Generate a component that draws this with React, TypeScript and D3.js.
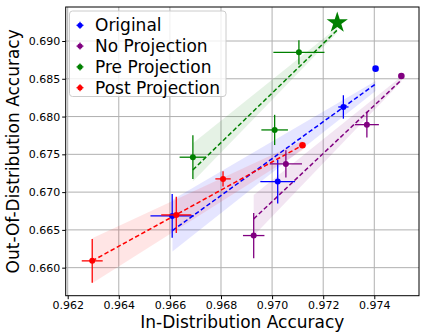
import { useEffect, useRef } from 'react';
import * as d3 from 'd3';

// In-distribution / out-of-distribution accuracy per method
const seriesNames = ['Original', 'No Projection', 'Pre Projection', 'Post Projection'];
const seriesColors = ['#0000ff', '#800080', '#008000', '#ff0000'];

const originalId = [0.96609, 0.97022, 0.97279];
const originalOod = [0.66685, 0.67139, 0.68127];
const originalIdErr = [0.00085, 0.00068, 0.0002];
const originalOodErr = [0.0029, 0.0029, 0.00155];

const noProjId = [0.96928, 0.97054, 0.97371];
const noProjOod = [0.66425, 0.67373, 0.67893];
const noProjIdErr = [0.00042, 0.00063, 0.00047];
const noProjOodErr = [0.003, 0.0018, 0.0017];

const preProjId = [0.9669, 0.9701, 0.97105];
const preProjOod = [0.67462, 0.67823, 0.6885];
const preProjIdErr = [0.00052, 0.00052, 0.001];
const preProjOodErr = [0.0029, 0.002, 0.0016];

const postProjId = [0.96296, 0.96625, 0.96808];
const postProjOod = [0.6609, 0.66698, 0.67175];
const postProjIdErr = [0.00041, 0.00059, 0.0003];
const postProjOodErr = [0.0029, 0.0024, 0.001];

// final (merged) model: [id, ood]
const endPoints = [
  [0.97405, 0.68634],
  [0.97506, 0.68537],
  [0.97255, 0.69242],
  [0.97119, 0.6762],
];

// dashed trend lines and their shaded bands, at start and end x
const fitX = [
  [0.9661, 0.97405],
  [0.96928, 0.97506],
  [0.9669, 0.97255],
  [0.96296, 0.97119],
];
const fitY = [
  [0.66491, 0.68431],
  [0.66646, 0.68484],
  [0.67294, 0.69146],
  [0.6609, 0.6762],
];
const bandLow = [
  [0.66213, 0.68339],
  [0.66421, 0.6846],
  [0.67139, 0.6911],
  [0.65795, 0.67555],
];
const bandHigh = [
  [0.669, 0.68471],
  [0.66963, 0.6853],
  [0.67647, 0.6918],
  [0.6639, 0.6768],
];

const xTicks = [0.962, 0.964, 0.966, 0.968, 0.97, 0.972, 0.974];
const yTicks = [0.66, 0.665, 0.67, 0.675, 0.68, 0.685, 0.69];

export default function App() {
  const svgRef = useRef<SVGSVGElement>(null);

  useEffect(() => {
    if (!svgRef.current) return;
    const width = 422;
    const height = 332;
    const margin = { top: 7, right: 3, bottom: 36.3, left: 65.7 };
    const font = 'DejaVu Sans, sans-serif';

    const svg = d3.select(svgRef.current);
    svg.selectAll('*').remove();
    svg.attr('width', width).attr('height', height);

    const innerWidth = width - margin.left - margin.right;
    const innerHeight = height - margin.top - margin.bottom;
    const g = svg.append('g').attr('transform', `translate(${margin.left},${margin.top})`);

    const x = d3.scaleLinear().domain([0.961922, 0.97575]).range([0, innerWidth]);
    const y = d3.scaleLinear().domain([0.65629, 0.6945]).range([innerHeight, 0]);

    // Grid
    g.append('g')
      .selectAll('line')
      .data(xTicks)
      .join('line')
      .attr('x1', (d) => x(d))
      .attr('x2', (d) => x(d))
      .attr('y1', 0)
      .attr('y2', innerHeight)
      .attr('stroke', '#b0b0b0')
      .attr('stroke-width', 1);
    g.append('g')
      .selectAll('line')
      .data(yTicks)
      .join('line')
      .attr('x1', 0)
      .attr('x2', innerWidth)
      .attr('y1', (d) => y(d))
      .attr('y2', (d) => y(d))
      .attr('stroke', '#b0b0b0')
      .attr('stroke-width', 1);

    const groups = [
      { id: originalId, ood: originalOod, idErr: originalIdErr, oodErr: originalOodErr },
      { id: noProjId, ood: noProjOod, idErr: noProjIdErr, oodErr: noProjOodErr },
      { id: preProjId, ood: preProjOod, idErr: preProjIdErr, oodErr: preProjOodErr },
      { id: postProjId, ood: postProjOod, idErr: postProjIdErr, oodErr: postProjOodErr },
    ];

    // Bands
    groups.forEach((_, s) => {
      const pts: [number, number][] = [
        [x(fitX[s][0]), y(bandHigh[s][0])],
        [x(fitX[s][1]), y(bandHigh[s][1])],
        [x(fitX[s][1]), y(bandLow[s][1])],
        [x(fitX[s][0]), y(bandLow[s][0])],
      ];
      g.append('path')
        .attr('d', d3.line()(pts) + 'Z')
        .attr('fill', seriesColors[s])
        .attr('fill-opacity', 0.1)
        .attr('stroke', 'none');
    });

    // Trend lines
    groups.forEach((_, s) => {
      g.append('line')
        .attr('x1', x(fitX[s][0]))
        .attr('x2', x(fitX[s][1]))
        .attr('y1', y(fitY[s][0]))
        .attr('y2', y(fitY[s][1]))
        .attr('stroke', seriesColors[s])
        .attr('stroke-width', 1.5)
        .attr('stroke-dasharray', '4.5,2.5');
    });

    // Error bars and points
    groups.forEach((grp, s) => {
      const c = seriesColors[s];
      grp.id.forEach((xi, i) => {
        const yi = grp.ood[i];
        g.append('line')
          .attr('x1', x(xi - grp.idErr[i]))
          .attr('x2', x(xi + grp.idErr[i]))
          .attr('y1', y(yi))
          .attr('y2', y(yi))
          .attr('stroke', c)
          .attr('stroke-width', 1.3);
        g.append('line')
          .attr('x1', x(xi))
          .attr('x2', x(xi))
          .attr('y1', y(yi - grp.oodErr[i]))
          .attr('y2', y(yi + grp.oodErr[i]))
          .attr('stroke', c)
          .attr('stroke-width', 1.3);
        g.append('circle')
          .attr('cx', x(xi))
          .attr('cy', y(yi))
          .attr('r', 3)
          .attr('fill', c);
      });
      const [ex, ey] = endPoints[s];
      if (s === 2) {
        g.append('path')
          .attr('d', d3.symbol().type(d3.symbolStar).size(140)() ?? '')
          .attr('transform', `translate(${x(ex)},${y(ey)})`)
          .attr('fill', c);
      } else {
        g.append('circle')
          .attr('cx', x(ex))
          .attr('cy', y(ey))
          .attr('r', 3.3)
          .attr('fill', c);
      }
    });

    // Frame
    g.append('rect')
      .attr('width', innerWidth)
      .attr('height', innerHeight)
      .attr('fill', 'none')
      .attr('stroke', '#000')
      .attr('stroke-width', 1);

    // Axes
    const xAxis = g
      .append('g')
      .attr('transform', `translate(0,${innerHeight})`)
      .call(d3.axisBottom(x).tickValues(xTicks).tickSize(3.5).tickSizeOuter(0).tickFormat(d3.format('.3f')));
    const yAxis = g
      .append('g')
      .call(d3.axisLeft(y).tickValues(yTicks).tickSize(3.5).tickSizeOuter(0).tickFormat(d3.format('.3f')));
    [xAxis, yAxis].forEach((ax) => {
      ax.select('.domain').remove();
      ax.selectAll('text').attr('font-size', 11).attr('font-family', font).attr('fill', '#000');
      ax.selectAll('line').attr('stroke', '#000');
    });
    xAxis.selectAll('text').attr('dy', '0.71em').attr('y', 6);
    yAxis.selectAll('text').attr('x', -5.5);

    svg
      .append('text')
      .attr('x', margin.left + innerWidth / 2)
      .attr('y', 328)
      .attr('text-anchor', 'middle')
      .attr('font-size', 17)
      .attr('font-family', font)
      .text('In-Distribution Accuracy');
    svg
      .append('text')
      .attr('transform', `translate(19,${margin.top + innerHeight / 2}) rotate(-90)`)
      .attr('text-anchor', 'middle')
      .attr('font-size', 17)
      .attr('font-family', font)
      .text('Out-Of-Distribution Accuracy');

    // Legend
    const legend = svg.append('g').attr('transform', 'translate(69.5,11)');
    legend
      .append('rect')
      .attr('width', 156.5)
      .attr('height', 85.5)
      .attr('rx', 3)
      .attr('fill', '#fff')
      .attr('fill-opacity', 0.8)
      .attr('stroke', '#cccccc')
      .attr('stroke-width', 1);
    seriesNames.forEach((name, i) => {
      const cy = 14.3 + i * 20.8;
      legend
        .append('line')
        .attr('x1', 10.5 - 3.5)
        .attr('x2', 10.5 + 3.5)
        .attr('y1', cy)
        .attr('y2', cy)
        .attr('stroke', seriesColors[i])
        .attr('stroke-width', 1.2);
      legend
        .append('line')
        .attr('x1', 10.5)
        .attr('x2', 10.5)
        .attr('y1', cy - 3.5)
        .attr('y2', cy + 3.5)
        .attr('stroke', seriesColors[i])
        .attr('stroke-width', 1.2);
      legend.append('circle').attr('cx', 10.5).attr('cy', cy).attr('r', 2.6).attr('fill', seriesColors[i]);
      legend
        .append('text')
        .attr('x', 25.5)
        .attr('y', cy + 6)
        .attr('font-size', 17)
        .attr('font-family', font)
        .text(name);
    });
  }, []);

  return (
    <div>
      <style>{'body{margin:0}'}</style>
      <svg ref={svgRef} style={{ display: 'block' }} />
    </div>
  );
}
